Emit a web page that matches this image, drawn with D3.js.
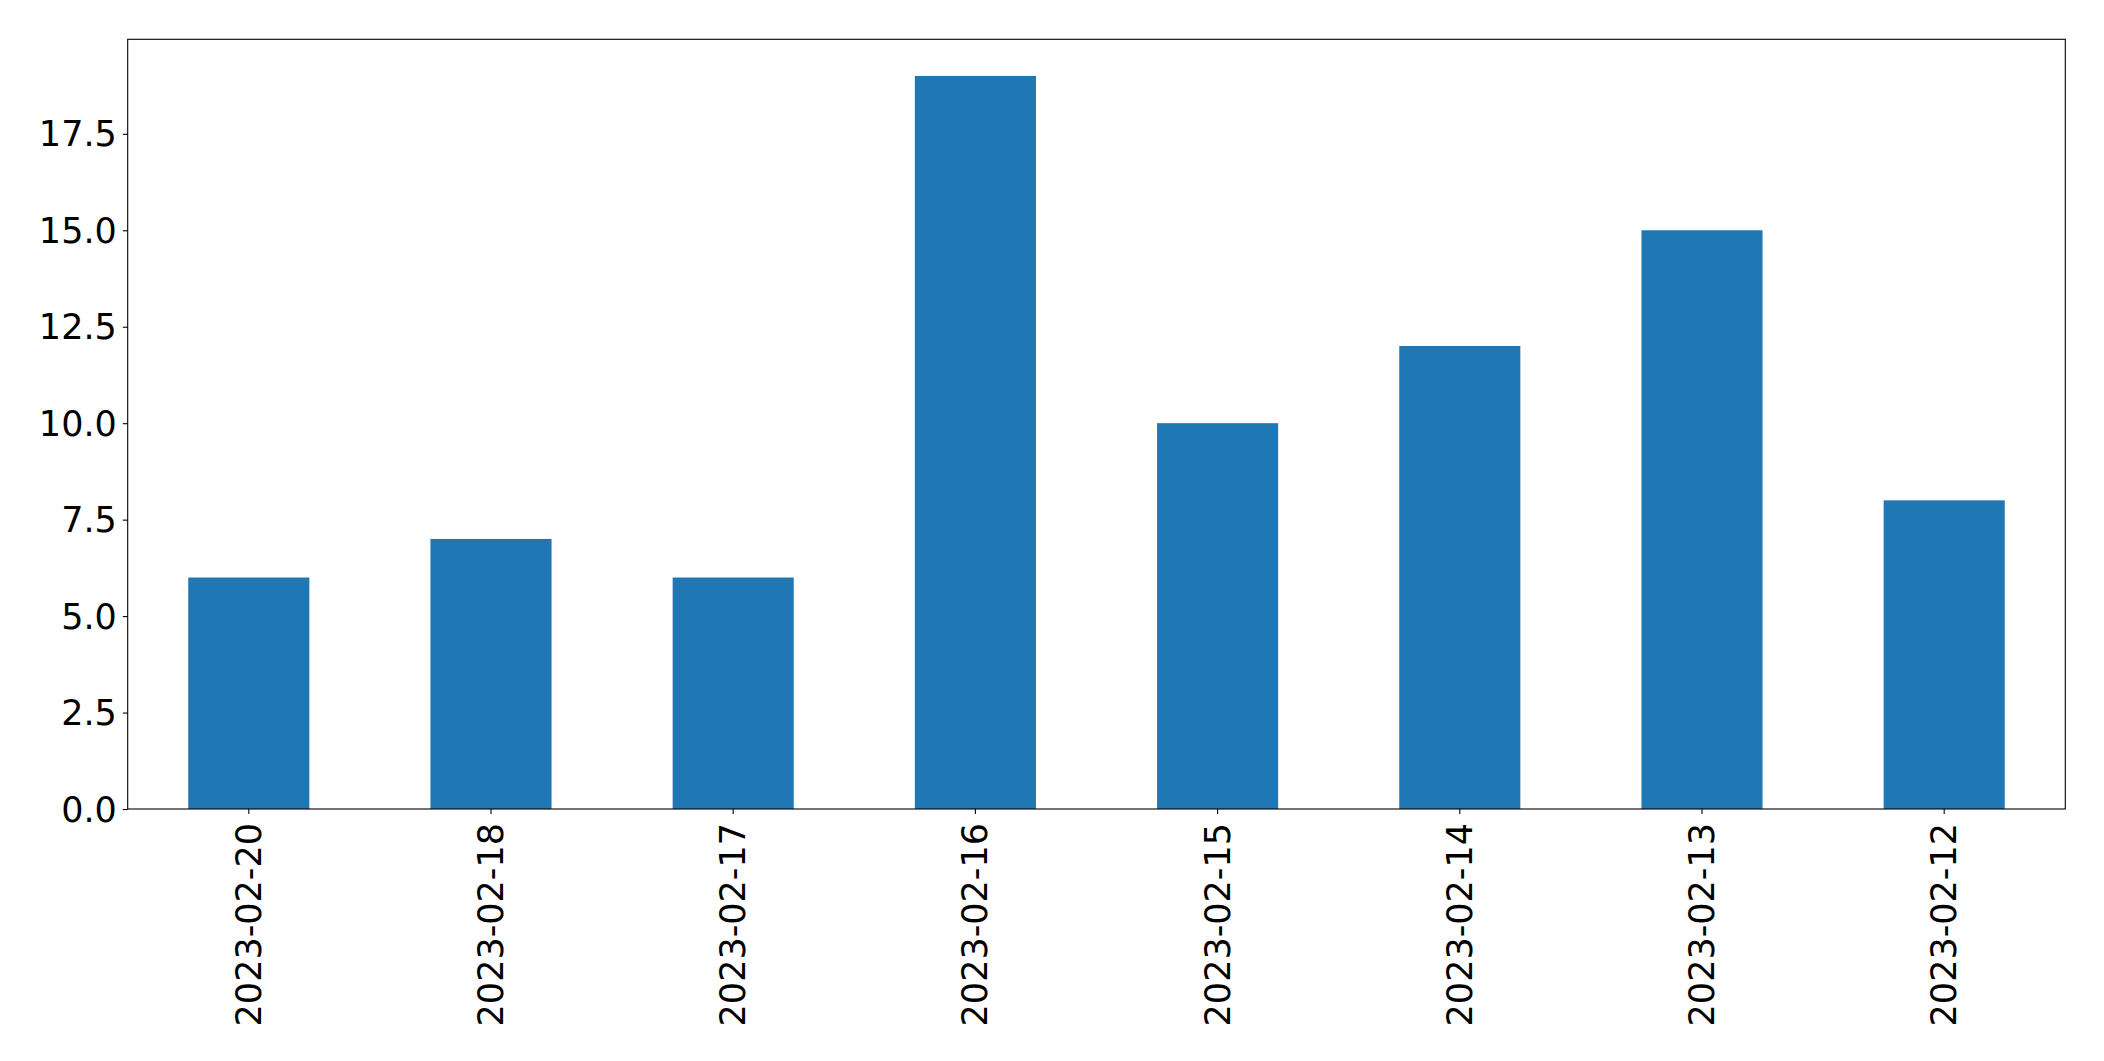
<!DOCTYPE html>
<html>
<head>
<meta charset="utf-8">
<script src="https://cdn.jsdelivr.net/npm/d3@7"></script>
<style>
  html, body { margin: 0; padding: 0; background: #fff; }
  svg { display: block; }
  text { font-family: "DejaVu Sans", sans-serif; fill: #000; }
</style>
</head>
<body>
<div id="chart"></div>
<script>
const categories = ["2023-02-20", "2023-02-18", "2023-02-17", "2023-02-16", "2023-02-15", "2023-02-14", "2023-02-13", "2023-02-12"];
const values = [6, 7, 6, 19, 10, 12, 15, 8];
const yTicks = [0, 2.5, 5, 7.5, 10, 12.5, 15, 17.5];

const W = 2104, H = 1061;
const plot = { left: 127.7, right: 2065.3, top: 39.3, bottom: 809 };
const fontSize = 35;

const svg = d3.select("#chart").append("svg").attr("width", W).attr("height", H);

const x = d3.scaleBand().domain(categories).range([plot.left, plot.right])
  .paddingInner(0.5).paddingOuter(0.25);
const yMax = d3.max(values) * 1.05;
const y = d3.scaleLinear().domain([0, yMax]).range([plot.bottom, plot.top]);

// bars
svg.append("g").selectAll("rect").data(values).join("rect")
  .attr("x", (d, i) => x(categories[i]))
  .attr("width", x.bandwidth())
  .attr("y", d => y(d))
  .attr("height", d => y(0) - y(d))
  .attr("fill", "#1f77b4");

// y axis
const yAxis = d3.axisLeft(y).tickValues(yTicks).tickFormat(d3.format(".1f"))
  .tickSize(4.9).tickPadding(6);
const gy = svg.append("g").attr("transform", `translate(${plot.left},0)`).call(yAxis);
gy.select(".domain").remove();
gy.selectAll(".tick line").attr("stroke", "#000").attr("stroke-width", 1.1);
gy.selectAll(".tick text").attr("font-size", fontSize).attr("font-family", "DejaVu Sans")
  .attr("dy", null).attr("dominant-baseline", "central").attr("fill", "#000");

// x axis
const xAxis = d3.axisBottom(x).tickSize(4.9).tickPadding(0);
const gx = svg.append("g").attr("transform", `translate(0,${plot.bottom})`).call(xAxis);
gx.select(".domain").remove();
gx.selectAll(".tick line").attr("stroke", "#000").attr("stroke-width", 1.1);
gx.selectAll(".tick text")
  .attr("font-size", fontSize).attr("font-family", "DejaVu Sans").attr("fill", "#000")
  .attr("y", 0).attr("dy", null)
  .attr("text-anchor", "end")
  .attr("dominant-baseline", "central")
  .attr("transform", "translate(0,14) rotate(-90)");

// frame
svg.append("rect")
  .attr("x", plot.left).attr("y", plot.top)
  .attr("width", plot.right - plot.left).attr("height", plot.bottom - plot.top)
  .attr("fill", "none").attr("stroke", "#000").attr("stroke-width", 1.1);
</script>
</body>
</html>
